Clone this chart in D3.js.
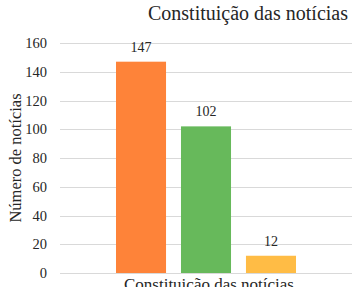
<!DOCTYPE html>
<html>
<head>
<meta charset="utf-8">
<script src="https://cdn.jsdelivr.net/npm/d3@7"></script>
<style>
  body { margin: 0; background: #fff; }
  svg { display: block; font-family: "Liberation Serif", "Times New Roman", serif; }
</style>
</head>
<body>
<svg id="chart" width="356" height="287"></svg>
<script>
// data
const categories = ["Constituição das notícias"];
const series = ["s1", "s2", "s3"];
const values = [147, 102, 12];
const colors = ["#fe8339", "#67b95b", "#ffbc45"];
const yTicks = [0, 20, 40, 60, 80, 100, 120, 140, 160];

const svg = d3.select("#chart");
const margin = {left: 60, right: 4, top: 43, bottom: 14};
const W = 356, H = 287;
const txt = "#262626";

const y = d3.scaleLinear().domain([0, 160]).range([H - margin.bottom, margin.top]);
const x0 = d3.scaleBand().domain(categories)
  .range([margin.left, W - margin.right]).paddingInner(0).paddingOuter(0.19);
const x1 = d3.scaleBand().domain(series)
  .range([0, x0.bandwidth()]).paddingInner(0.23).paddingOuter(0.243);

// gridlines
svg.append("g").selectAll("line")
  .data(yTicks)
  .join("line")
  .attr("x1", margin.left).attr("x2", W - margin.right)
  .attr("y1", d => Math.round(y(d)) + 0.5).attr("y2", d => Math.round(y(d)) + 0.5)
  .attr("stroke", "#d9d9d9").attr("stroke-width", 1);

// y axis labels
const yAxis = d3.axisLeft(y).tickValues(yTicks).tickSize(0).tickPadding(0);
svg.append("g")
  .attr("transform", `translate(${margin.left - 13},0)`)
  .call(yAxis)
  .call(g => g.select(".domain").remove())
  .call(g => g.selectAll("text")
    .attr("font-family", "Liberation Serif, serif")
    .attr("font-size", 14.5).attr("fill", txt));

// bars
const grp = svg.append("g").attr("transform", `translate(${x0(categories[0])},0)`);
grp.selectAll("rect")
  .data(values)
  .join("rect")
  .attr("x", (d, i) => x1(series[i]))
  .attr("width", x1.bandwidth())
  .attr("y", d => y(d))
  .attr("height", d => y(0) - y(d))
  .attr("fill", (d, i) => colors[i]);

grp.selectAll("text")
  .data(values)
  .join("text")
  .attr("x", (d, i) => x1(series[i]) + x1.bandwidth() / 2)
  .attr("y", d => y(d) - 10)
  .attr("text-anchor", "middle")
  .attr("font-size", 14)
  .attr("fill", txt)
  .text(d => d);

// category label (partly cut by the bottom edge, as in the source)
svg.append("text")
  .attr("x", x0(categories[0]) + x0.bandwidth() / 2 + 3)
  .attr("y", H + 3)
  .attr("text-anchor", "middle")
  .attr("font-size", 17)
  .attr("fill", txt)
  .text(categories[0]);

// title
svg.append("text")
  .attr("x", 148)
  .attr("y", 20)
  .attr("font-size", 20)
  .attr("fill", txt)
  .text("Constituição das notícias");

// y axis title
svg.append("text")
  .attr("transform", "translate(21,158) rotate(-90)")
  .attr("text-anchor", "middle")
  .attr("font-size", 16.5)
  .attr("fill", txt)
  .text("Número de notícias");
</script>
</body>
</html>
